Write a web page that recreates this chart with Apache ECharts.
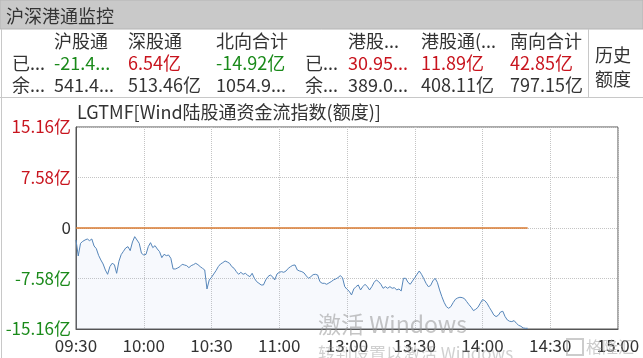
<!DOCTYPE html>
<html><head><meta charset="utf-8">
<script src="https://cdn.jsdelivr.net/npm/echarts@6/dist/echarts.min.js"></script>
<style>html,body{margin:0;padding:0;background:#fff}#c{width:643px;height:358px}</style>
</head><body><div id="c"></div>
<script>
const timeLabels = ['09:30','10:00','10:30','11:00','13:00','13:30','14:00','14:30','15:00'];
const yTickStep = 7.58;
const yLimit = 15.16;
const minuteIdx = [];
for (let m = 0; m <= 200; m++) minuteIdx.push(m);
const flowValues = [
 -1.8,-4.2,-2.3,-2.0,-1.8,-1.65,-1.9,-1.65,-2.7,-3.1,
 -4.1,-4.8,-5.4,-6.3,-6.95,-5.8,-5.3,-5.5,-6.8,-5.0,
 -4.0,-3.5,-3.0,-2.8,-3.4,-2.1,-1.3,-1.8,-2.3,-3.8,
 -4.05,-3.95,-2.8,-2.2,-2.95,-2.65,-3.15,-3.55,-4.45,-3.95,
 -4.15,-4.05,-4.55,-6.15,-6.15,-6.0,-5.8,-5.45,-5.55,-5.65,
 -5.95,-5.65,-5.5,-5.3,-5.5,-5.8,-6.05,-6.3,-9.15,-7.8,
 -7.4,-6.9,-6.4,-5.8,-5.4,-5.2,-4.95,-5.1,-5.3,-5.8,
 -6.05,-6.55,-6.95,-6.65,-6.95,-6.8,-7.1,-7.3,-6.8,-7.55,
 -8.05,-8.3,-8.55,-8.55,-7.8,-7.3,-7.05,-7.3,-7.8,-6.9,
 -6.65,-6.55,-6.65,-6.45,-6.05,-5.8,-5.6,-5.55,-6.3,-6.45,
 -6.55,-6.75,-7.2,-7.55,-7.3,-7.0,-6.95,-7.05,-8.05,-8.3,
 -8.3,-8.45,-8.25,-8.05,-7.8,-7.65,-7.45,-7.15,-7.45,-8.8,
 -9.2,-9.5,-10.05,-9.15,-8.8,-8.55,-9.3,-8.8,-8.45,-8.8,
 -9.3,-8.8,-8.15,-7.8,-8.05,-8.45,-9.05,-8.8,-9.05,-8.8,
 -9.05,-8.95,-9.3,-9.15,-9.45,-7.55,-7.55,-8.15,-8.45,-7.95,
 -7.45,-6.95,-6.45,-6.95,-7.6,-8.3,-8.8,-8.65,-7.95,-7.55,
 -8.15,-9.3,-10.3,-11.15,-11.8,-12.05,-11.8,-11.2,-10.7,-10.5,
 -10.4,-10.45,-10.6,-11.05,-11.5,-11.9,-12.4,-12.2,-11.9,-11.3,
 -10.75,-10.9,-11.3,-11.9,-12.45,-13.05,-13.3,-13.1,-12.6,-12.5,
 -13.3,-13.8,-14.0,-14.05,-13.9,-14.3,-14.6,-14.75,-15.0,-15.05,
 -15.05
];
const panelTitle = '沪深港通监控';
const chartTitle = 'LGTMF[Wind陆股通资金流指数(额度)]';
const headerCols = ['沪股通','深股通','北向合计','港股...','港股通(...','南向合计'];
const usedVals = ['-21.4...','6.54亿','-14.92亿','30.95...','11.89亿','42.85亿'];
const remainVals = ['541.4...','513.46亿','1054.9...','389.0...','408.11亿','797.15亿'];
const rowLabels = ['已...','余...'];
const histLabel = ['历史','额度'];

const F = '"Noto Sans CJK SC","Microsoft YaHei",sans-serif';
const RED = '#c8141e', GREEN = '#1a8a1a', TXT = '#333';
const colX = [54,128,216,348,421,510];
const groupLabelX = [12,305];

function txt(text, x, y, size, color, align) {
  return {type:'text', silent:true, z:100,
    style:{text:text, x:x, y:y, fill:color||TXT, fontSize:size, fontFamily:F,
      align:align||'left', verticalAlign:'middle', textAlign:align||'left', textVerticalAlign:'middle'}};
}
const g = [];
g.push({type:'rect', shape:{x:0,y:0,width:643,height:29}, style:{fill:'#c9c9c9', stroke:'#b5b5b5', lineWidth:1}, silent:true});
g.push(txt(panelTitle, 6, 16, 18, TXT));
g.push({type:'line', shape:{x1:0,y1:97.5,x2:643,y2:97.5}, style:{stroke:'#c8c8c8', lineWidth:1}, silent:true});
g.push({type:'line', shape:{x1:1.5,y1:29,x2:1.5,y2:358}, style:{stroke:'#c8c8c8', lineWidth:1}, silent:true});
g.push({type:'line', shape:{x1:588.5,y1:29,x2:588.5,y2:97}, style:{stroke:'#c8c8c8', lineWidth:1}, silent:true});
headerCols.forEach((h,i)=>g.push(txt(h, colX[i], 41, 18, TXT)));
usedVals.forEach((v,i)=>g.push(txt(v, colX[i], 63, 18, v.charAt(0)==='-'?GREEN:RED)));
remainVals.forEach((v,i)=>g.push(txt(v, colX[i], 85, 18, TXT)));
groupLabelX.forEach(x=>{ g.push(txt(rowLabels[0], x, 63, 18, TXT)); g.push(txt(rowLabels[1], x, 85, 18, TXT)); });
g.push(txt(histLabel[0], 595, 55, 18, TXT));
g.push(txt(histLabel[1], 595, 79, 18, TXT));
g.push(txt(chartTitle, 77, 112, 18, TXT));
// screen overlay texts
g.push({type:'text', silent:true, z:50, style:{text:'激活 Windows', x:318, y:324, fill:'rgba(150,150,150,0.55)', fontSize:23, fontFamily:F, verticalAlign:'middle', textVerticalAlign:'middle'}});
g.push({type:'text', silent:true, z:50, style:{text:'转到设置以激活 Windows', x:318, y:354, fill:'rgba(150,150,150,0.45)', fontSize:17, fontFamily:F, verticalAlign:'middle', textVerticalAlign:'middle'}});
g.push({type:'text', silent:true, z:50, style:{text:'格隆汇', x:586, y:347, fill:'rgba(170,170,170,0.6)', fontSize:16, fontFamily:F, verticalAlign:'middle', textVerticalAlign:'middle'}});
g.push({type:'rect', silent:true, z:50, shape:{x:567,y:339,width:16,height:16}, style:{fill:'none', stroke:'rgba(170,170,170,0.6)', lineWidth:2}});

const chart = echarts.init(document.getElementById('c'), null, {renderer:'canvas'});
const flowData = minuteIdx.map((m,i)=>[m, flowValues[i]]);
const zeroData = [[minuteIdx[0],0],[minuteIdx[minuteIdx.length-1],0]];
chart.setOption({
  animation:false,
  backgroundColor:'#fff',
  textStyle:{fontFamily:F},
  grid:{left:76, right:25, top:127, bottom:29, show:true, borderColor:'#555', borderWidth:1},
  xAxis:{type:'value', min:0, max:240, interval:30,
    axisLine:{show:true, onZero:false, lineStyle:{color:'#555'}}, axisTick:{show:false},
    axisLabel:{fontSize:17, color:TXT, margin:8, fontFamily:F, showMaxLabel:true, showMinLabel:true,
      formatter:v=>timeLabels[Math.round(v/30)]},
    splitLine:{show:true, lineStyle:{color:'#c4c4c4', type:'dotted'}}},
  yAxis:{type:'value', min:-yLimit, max:yLimit, interval:yTickStep,
    axisLine:{show:true, onZero:false, lineStyle:{color:'#555'}}, axisTick:{show:false},
    axisLabel:{fontSize:17, margin:5, fontFamily:F,
      formatter:v=>{ if (Math.abs(v)<1e-6) return '{z|0}'; const s=v.toFixed(2)+'亿'; return v>0?'{r|'+s+'}':'{g|'+s+'}'; },
      rich:{r:{color:RED, fontSize:17, fontFamily:F}, g:{color:GREEN, fontSize:17, fontFamily:F}, z:{color:TXT, fontSize:17, fontFamily:F}}},
    splitLine:{show:true, lineStyle:{color:'#c4c4c4', type:'dotted'}}},
  series:[
    {type:'line', data:flowData, showSymbol:false, symbol:'none', z:3,
      lineStyle:{color:'#5585b9', width:1},
      areaStyle:{origin:'start', color:'rgba(175,200,232,0.15)'}},
    {type:'line', data:zeroData, showSymbol:false, symbol:'none', z:4,
      lineStyle:{color:'#d97a30', width:1.5}}
  ],
  graphic:g
});
</script></body></html>
